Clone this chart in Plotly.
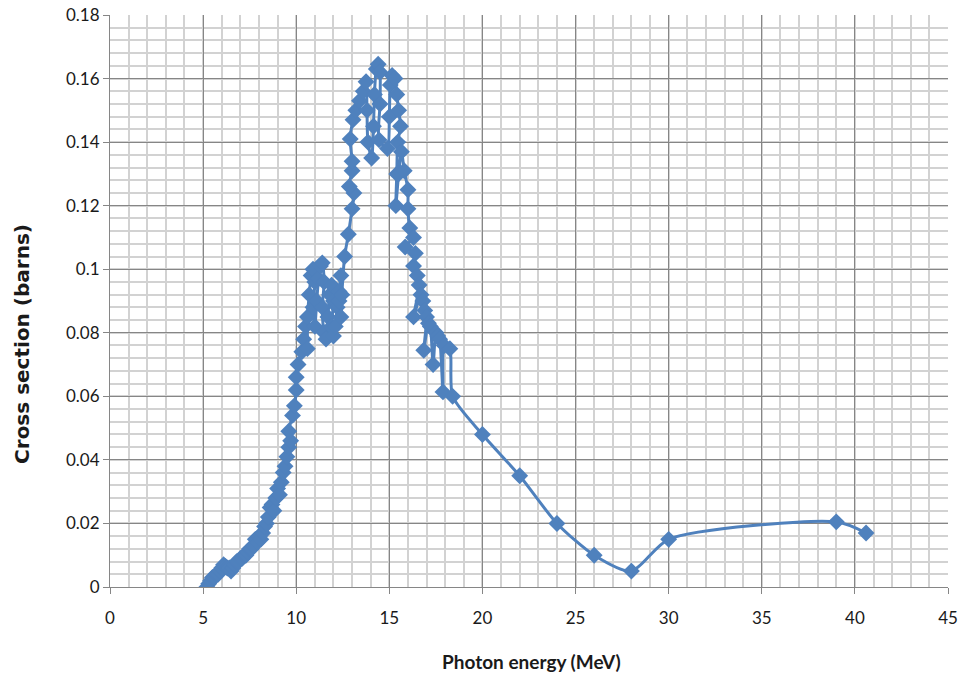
import plotly.graph_objects as go

# Photon energy (MeV) and cross section (barns), in plotted order
energy = [
    5.2, 5.3, 5.4, 5.5, 5.6, 5.7, 5.8, 5.9, 6.0, 6.1, 6.2, 6.3, 6.4, 6.5, 6.6, 6.7,
    6.8, 6.9, 7.0, 7.1, 7.2, 7.3, 7.4, 7.5, 7.6, 7.7, 7.8, 7.9, 8.0, 8.1, 8.2, 8.3,
    8.4, 8.5, 8.6, 8.7, 8.8, 8.9, 9.0, 9.1, 9.2, 9.3, 9.4, 9.5, 9.6, 9.7, 9.6, 9.8,
    9.9, 10.0, 10.0, 10.1, 10.3, 10.4,
    10.5, 10.6, 10.6, 10.7, 10.8, 10.9, 11.0, 10.9, 11.0, 11.1, 11.2, 11.3, 11.4,
    11.5, 11.4, 11.5, 11.6, 11.7, 11.8, 11.9, 12.0, 11.9, 12.0, 12.1, 12.2, 12.3,
    12.4, 12.3, 12.4, 12.45,
    12.6, 12.8, 13.0, 13.1, 12.85, 13.0, 13.0, 12.9, 13.05, 13.2, 13.4, 13.6, 13.75,
    13.8, 13.85, 14.05, 14.15, 14.2, 14.3, 14.4, 14.5, 14.5, 14.45, 14.9, 15.0, 15.05,
    15.15, 15.3, 15.4, 15.5, 15.6, 15.45, 15.4, 15.35, 15.5, 15.65, 15.8, 16.0, 16.0,
    16.1, 16.3, 15.85, 16.4, 16.3, 16.5, 16.6, 16.3, 16.7, 16.8, 16.9, 17.0, 16.85,
    17.1, 17.2, 17.35, 17.5, 17.6, 17.7, 17.88, 17.95, 18.25, 18.4,
    20.0, 22.0, 24.0, 26.0, 28.0, 30.0, 39.0, 40.6,
]
cross_section = [
    0.000, 0.001, 0.002, 0.003, 0.003, 0.004, 0.004, 0.005, 0.006, 0.007, 0.0065, 0.006, 0.006, 0.005, 0.006, 0.007,
    0.008, 0.008, 0.009, 0.009, 0.010, 0.010, 0.011, 0.012, 0.012, 0.013, 0.015, 0.014, 0.016, 0.015, 0.017, 0.019,
    0.020, 0.022, 0.025, 0.026, 0.024, 0.028, 0.031, 0.029, 0.033, 0.036, 0.038, 0.041, 0.044, 0.046, 0.049, 0.054,
    0.057, 0.062, 0.066, 0.070, 0.074, 0.078,
    0.082, 0.075, 0.085, 0.092, 0.098, 0.100, 0.096, 0.088, 0.082, 0.090, 0.097, 0.101, 0.102,
    0.096, 0.088, 0.080, 0.078, 0.085, 0.092, 0.095, 0.090, 0.082, 0.079, 0.082, 0.088, 0.093,
    0.098, 0.090, 0.085, 0.092,
    0.104, 0.111, 0.119, 0.124, 0.126, 0.131, 0.134, 0.141, 0.147, 0.150, 0.153, 0.156, 0.159,
    0.150, 0.140, 0.135, 0.145, 0.155, 0.163, 0.1645, 0.162, 0.152, 0.1407, 0.138, 0.148, 0.158,
    0.161, 0.160, 0.155, 0.150, 0.145, 0.140, 0.130, 0.120, 0.130, 0.137, 0.131, 0.125, 0.119,
    0.113, 0.110, 0.107, 0.105, 0.101, 0.098, 0.095, 0.085, 0.092, 0.090, 0.087, 0.085, 0.0745,
    0.083, 0.082, 0.070, 0.080, 0.079, 0.078, 0.0614, 0.076, 0.075, 0.060,
    0.048, 0.035, 0.020, 0.010, 0.005, 0.015, 0.0205, 0.017,
]

x_ticks = [0, 5, 10, 15, 20, 25, 30, 35, 40, 45]
y_ticks = [0, 0.02, 0.04, 0.06, 0.08, 0.1, 0.12, 0.14, 0.16, 0.18]
y_tick_text = ["0", "0.02", "0.04", "0.06", "0.08", "0.1", "0.12", "0.14", "0.16", "0.18"]
x_title = "Photon energy (MeV)"
y_title = "Cross section (barns)"

blue = "#4F81BD"
font_family = "Lato, 'Open Sans', sans-serif"
text_color = "#1a1a1a"

fig = go.Figure()
fig.add_trace(go.Scatter(
    x=energy, y=cross_section, mode="lines+markers",
    line=dict(color=blue, width=3, shape="spline", smoothing=0.7),
    marker=dict(symbol="diamond", size=13, color=blue, line=dict(width=0)),
    showlegend=False,
))

grid_major = "#868686"
grid_minor = "#D2D2D2"

fig.update_xaxes(
    range=[0, 45], tickvals=x_ticks, ticks="outside", ticklen=6, tickcolor=grid_major,
    showgrid=True, gridcolor=grid_major, gridwidth=1,
    minor=dict(dtick=1, showgrid=True, gridcolor=grid_minor, gridwidth=1.5),
    showline=True, linecolor=grid_major, linewidth=1, zeroline=False,
    tickfont=dict(family=font_family, size=17, color=text_color),
    ticklabelstandoff=10,
    automargin=False,
)
fig.update_yaxes(
    range=[0, 0.18], tickvals=y_ticks, ticktext=y_tick_text, ticks="outside", ticklen=6,
    tickcolor=grid_major,
    showgrid=True, gridcolor=grid_major, gridwidth=1,
    minor=dict(dtick=0.004, tick0=0, showgrid=True, gridcolor=grid_minor, gridwidth=1.5),
    showline=True, linecolor=grid_major, linewidth=1, zeroline=False,
    tickfont=dict(family=font_family, size=17, color=text_color),
    automargin=False,
)
fig.add_annotation(
    text="<b>" + x_title + "</b>", xref="paper", yref="paper", x=0.5024, y=-0.131,
    xanchor="center", yanchor="middle", showarrow=False,
    font=dict(family=font_family, size=19, color=text_color),
)
fig.add_annotation(
    text="<b>" + y_title + "</b>", xref="paper", yref="paper", x=-0.105, y=0.425,
    xanchor="center", yanchor="middle", showarrow=False, textangle=-90,
    font=dict(family="'DejaVu Sans', sans-serif", size=20, color=text_color),
)
fig.update_layout(
    width=967, height=675,
    margin=dict(l=110, r=19, t=15, b=88),
    paper_bgcolor="white", plot_bgcolor="white",
)
fig.write_html("out.html", config={"displayModeBar": False},
               post_script="document.body.style.margin='0';")
